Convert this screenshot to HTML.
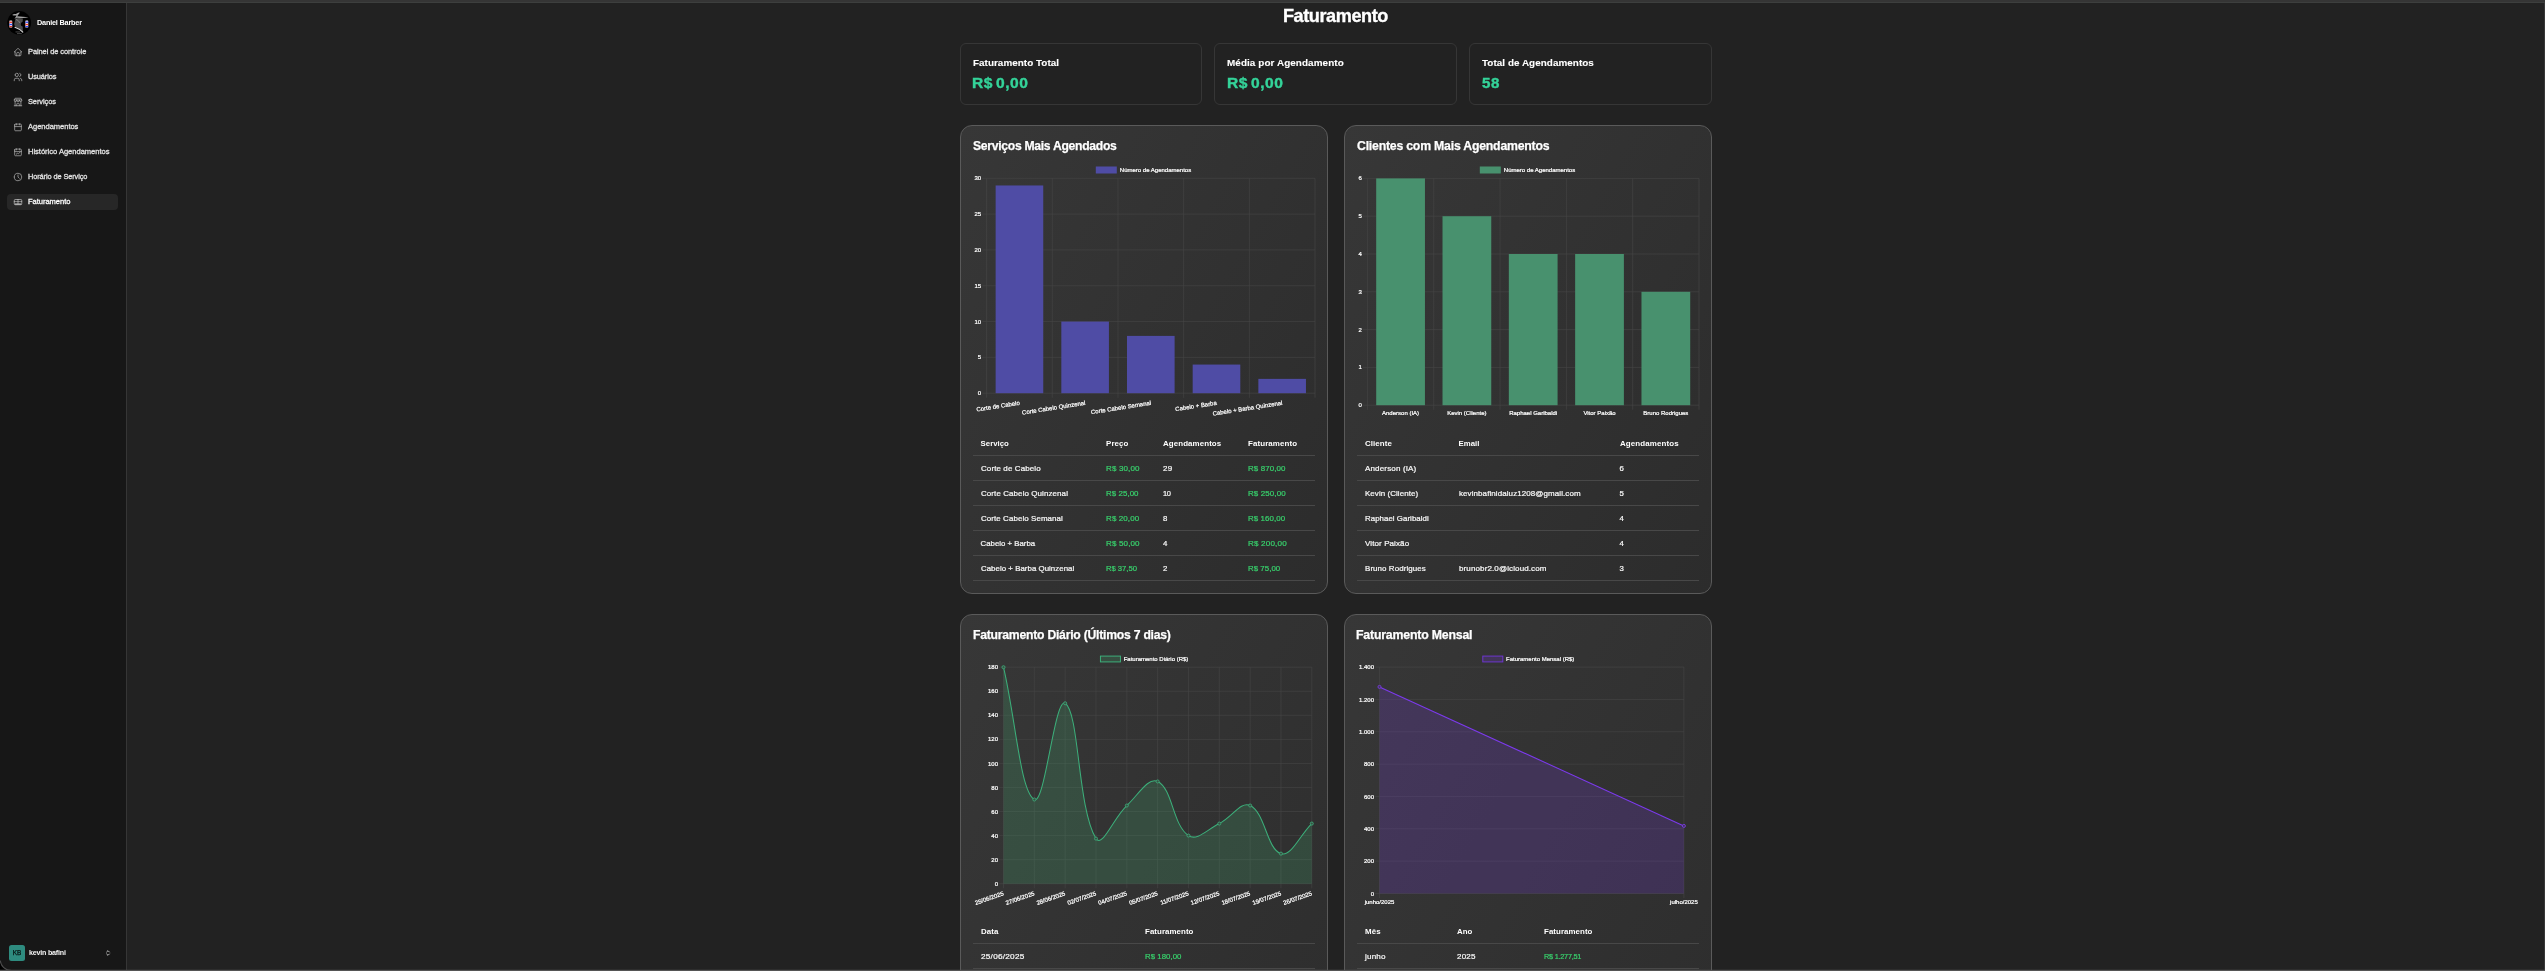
<!DOCTYPE html>
<html lang="pt-BR">
<head>
<meta charset="utf-8">
<title>Faturamento</title>
<style>
*{box-sizing:border-box;margin:0;padding:0}
html,body{width:2545px;height:971px;overflow:hidden;background:#222222}
body{position:relative;font-family:"Liberation Sans",sans-serif;color:#fff;-webkit-font-smoothing:antialiased}
.t{position:absolute;line-height:1;white-space:nowrap;font-family:"Liberation Sans",sans-serif;transform-origin:0 50%}
#app{position:absolute;left:0;top:0;width:2545px;height:971px;overflow:hidden;will-change:transform}
.abs{position:absolute}
#chrome-top{left:0;top:0;width:2545px;height:2px;background:#353535}
#chrome-line{left:0;top:2px;width:2545px;height:1px;background:#3d3f3e}
#sidebar{left:0;top:3px;width:126px;height:968px;background:#171717}
#sidebar-border{left:126px;top:3px;width:1px;height:968px;background:#363636}
#main{left:127px;top:3px;width:2418px;height:968px;background:#222222}
#win-right{left:2544px;top:3px;width:1px;height:968px;background:#383838}
#win-bottom{left:0;top:970px;width:2545px;height:1px;background:#555555}
#win-bottom2{left:0;top:969px;width:2545px;height:1px;background:rgba(85,85,85,.22)}
.nav-active{left:7px;top:194px;width:111px;height:16px;border-radius:4px;background:#272727}
.avatar{left:9px;top:945px;width:16px;height:16px;border-radius:2.5px;background:#2e8b7f}
.stat{top:43px;height:62px;border:1px solid #363636;border-radius:6px;background:#222222}
.card{border:1px solid #5a5a5a;border-radius:12px;background:linear-gradient(120deg,#373737 0%,#2c2c2c 100%)}
.hr{height:1px;background:#484848}
svg{position:absolute;left:0;top:0;overflow:visible}
svg text{font-family:"Liberation Sans",sans-serif}

</style>
</head>
<body>
<div id="app">
<div id="chrome-top" class="abs"></div><div id="chrome-line" class="abs"></div>
<main id="main" class="abs"></main>
<aside id="sidebar" class="abs"></aside><div id="sidebar-border" class="abs"></div>
<svg class="abs" style="left:6px;top:9px" width="27" height="28" viewBox="6 9 27 28">
<circle cx="19.2" cy="22.8" r="11.9" fill="#000"/>
<path transform="translate(0 .8)" d="M12.2 14.2c1.6-1.4 3.2-.4 4.6-1.4 1-.7 2.2-1.4 3-.9-.9 1-1.8 2.3-2.6 3.6 3.6.5 8 .6 11.4 1.3-3.8.5-7.8.3-11.8.1-.9.2-1.7.6-2.4 1.100.8-1.100 1.500-2.100 2.200-3.300-1.500.100-3 .300-4.400-.500z" fill="#bdbdbd" opacity=".85"/>
<path d="M15.300 18.500c2.500-.800 5.500-.800 7.600 0l-.300 3.200c-1.300.700-2 1.800-1.800 3 .2 1 .9 1.500 1.900 1.700l.2 5.200c-2.200-2-5-3.400-7.400-4.800-1.300-1.400-1.600-3-.900-4.600.5-1.100.6-2.400.7-3.700z" fill="#5e5e5e" opacity=".8"/>
<path d="M15 27.200c2.800 1 5.800 2.600 7.800 5" stroke="#d8d8d8" stroke-width="1.100" fill="none" stroke-linecap="round"/>
<path d="M16 19.500c1.800.600 3.200 1.700 3.600 3.400" stroke="#9a9a9a" stroke-width=".7" fill="none"/>
<rect x="15.500" y="31.600" width="4.500" height=".7" fill="#666"/><rect x="17" y="33.300" width="4.800" height=".8" fill="#5c5c5c"/>
<g>
<rect x="9.400" y="20.400" width="2.800" height="7.200" rx=".5" fill="#f2f2f2"/>
<rect x="9.400" y="21.600" width="2.800" height="1.300" fill="#e8352b"/><rect x="9.400" y="23.800" width="2.800" height="1.400" fill="#3345f0"/><rect x="9.400" y="26" width="2.800" height="1.100" fill="#e8352b"/>
<rect x="25.400" y="20.400" width="2.800" height="7.200" rx=".5" fill="#f2f2f2"/>
<rect x="25.400" y="21.600" width="2.800" height="1.300" fill="#3345f0"/><rect x="25.400" y="23.800" width="2.800" height="1.400" fill="#e8352b"/><rect x="25.400" y="26" width="2.800" height="1.100" fill="#3345f0"/>
</g>
</svg>
<span class="t" style="top:18.63px;font-size:7.70px;color:#ffffff;left:36.70px;transform:scaleX(0.9487);font-weight:700;letter-spacing:-0.214px;">Daniel Barber</span>
<div class="abs nav-active"></div>
<nav>
<svg class="abs" style="left:13.00px;top:46.90px" width="10.00" height="10.00" viewBox="0 0 24 24" fill="none" stroke="#bdbdbd" stroke-width="1.60" stroke-linecap="round" stroke-linejoin="round"><path d="M5 12l-2 0l9 -9l9 9l-2 0"/><path d="M5 12v7a2 2 0 0 0 2 2h10a2 2 0 0 0 2 -2v-7"/><path d="M9 21v-6a2 2 0 0 1 2 -2h2a2 2 0 0 1 2 2v6"/></svg>
<span class="t" style="top:47.68px;font-size:7.60px;color:#e4e4e4;left:27.70px;transform:scaleX(0.9793);letter-spacing:-0.074px;-webkit-text-stroke:0.28px #e4e4e4;">Painel de controle</span>
<svg class="abs" style="left:13.00px;top:71.90px" width="10.00" height="10.00" viewBox="0 0 24 24" fill="none" stroke="#bdbdbd" stroke-width="1.60" stroke-linecap="round" stroke-linejoin="round"><path d="M9 7m-4 0a4 4 0 1 0 8 0a4 4 0 1 0 -8 0"/><path d="M3 21v-2a4 4 0 0 1 4 -4h4a4 4 0 0 1 4 4v2"/><path d="M16 3.130a4 4 0 0 1 0 7.750"/><path d="M21 21v-2a4 4 0 0 0 -3 -3.850"/></svg>
<span class="t" style="top:72.68px;font-size:7.60px;color:#e4e4e4;left:27.70px;transform:scaleX(0.9735);letter-spacing:-0.114px;-webkit-text-stroke:0.28px #e4e4e4;">Usuários</span>
<svg class="abs" style="left:13.00px;top:96.90px" width="10.00" height="10.00" viewBox="0 0 24 24" fill="none" stroke="#bdbdbd" stroke-width="1.60" stroke-linecap="round" stroke-linejoin="round"><path d="M3 21l18 0"/><path d="M3 7v1a3 3 0 0 0 6 0v-1m0 1a3 3 0 0 0 6 0v-1m0 1a3 3 0 0 0 6 0v-1h-18l2 -4h14l2 4"/><path d="M5 21l0 -10.150"/><path d="M19 21l0 -10.150"/><path d="M9 21v-4a2 2 0 0 1 2 -2h2a2 2 0 0 1 2 2v4"/></svg>
<span class="t" style="top:97.68px;font-size:7.60px;color:#e4e4e4;left:27.70px;transform:scaleX(0.9787);letter-spacing:-0.088px;-webkit-text-stroke:0.28px #e4e4e4;">Serviços</span>
<svg class="abs" style="left:13.00px;top:121.90px" width="10.00" height="10.00" viewBox="0 0 24 24" fill="none" stroke="#bdbdbd" stroke-width="1.60" stroke-linecap="round" stroke-linejoin="round"><path d="M4 7a2 2 0 0 1 2 -2h12a2 2 0 0 1 2 2v12a2 2 0 0 1 -2 2h-12a2 2 0 0 1 -2 -2v-12z"/><path d="M16 4.200v2.800"/><path d="M8 4.200v2.800"/><path d="M4 11h16"/></svg>
<span class="t" style="top:122.68px;font-size:7.60px;color:#e4e4e4;left:28.00px;transform:scaleX(0.9932);letter-spacing:-0.032px;-webkit-text-stroke:0.28px #e4e4e4;">Agendamentos</span>
<svg class="abs" style="left:13.00px;top:146.90px" width="10.00" height="10.00" viewBox="0 0 24 24" fill="none" stroke="#bdbdbd" stroke-width="1.60" stroke-linecap="round" stroke-linejoin="round"><path d="M4 7a2 2 0 0 1 2 -2h12a2 2 0 0 1 2 2v12a2 2 0 0 1 -2 2h-12a2 2 0 0 1 -2 -2v-12z"/><path d="M16 4.200v2.800"/><path d="M8 4.200v2.800"/><path d="M4 11h16"/><path d="M8 17l3 -2l2 1l4 -3.500"/></svg>
<span class="t" style="top:147.68px;font-size:7.60px;color:#e4e4e4;left:27.70px;transform:scaleX(0.9951);letter-spacing:-0.019px;-webkit-text-stroke:0.28px #e4e4e4;">Histórico Agendamentos</span>
<svg class="abs" style="left:13.00px;top:171.90px" width="10.00" height="10.00" viewBox="0 0 24 24" fill="none" stroke="#bdbdbd" stroke-width="1.60" stroke-linecap="round" stroke-linejoin="round"><path d="M3 12a9 9 0 1 0 18 0a9 9 0 0 0 -18 0"/><path d="M12 7v5l3 3"/></svg>
<span class="t" style="top:172.68px;font-size:7.60px;color:#e4e4e4;left:27.70px;transform:scaleX(0.9719);letter-spacing:-0.104px;-webkit-text-stroke:0.28px #e4e4e4;">Horário de Serviço</span>
<svg class="abs" style="left:13.00px;top:196.90px" width="10.00" height="10.00" viewBox="0 0 24 24" fill="none" stroke="#d6d6d6" stroke-width="1.60" stroke-linecap="round" stroke-linejoin="round"><path d="M3 8a2 2 0 0 1 2 -2h14a2 2 0 0 1 2 2v8.500a2 2 0 0 1 -2 2h-14a2 2 0 0 1 -2 -2z" stroke-width="1.500"/><path d="M3 11h18" stroke-width="1.300"/><path d="M12 6v9.500" stroke-width="1.500"/><path d="M4.500 16.900h15" stroke-width="2.400" stroke-linecap="butt"/></svg>
<span class="t" style="top:197.68px;font-size:7.60px;color:#ffffff;left:27.70px;transform:scaleX(0.9923);letter-spacing:-0.033px;-webkit-text-stroke:0.28px #ffffff;">Faturamento</span>
</nav>
<div class="abs avatar"></div>
<span class="t" style="top:950.08px;font-size:6.40px;color:#071311;left:17.00px;transform:translateX(-50%);-webkit-text-stroke:0.25px #071311;">KB</span>
<span class="t" style="top:948.88px;font-size:7.60px;color:#f4f4f4;left:28.90px;transform:scaleX(0.9398);font-weight:700;letter-spacing:-0.229px;">kevin bafini</span>
<svg class="abs" style="left:103.90px;top:949.00px" width="8.00" height="8.00" viewBox="0 0 24 24" fill="none" stroke="#e6e6e6" stroke-width="2.40" stroke-linecap="round" stroke-linejoin="round"><path d="M8 9l4 -4l4 4"/><path d="M16 15l-4 4l-4 -4"/></svg>
<svg class="abs" style="left:0;top:959px" width="12" height="12" viewBox="0 0 12 12"><path d="M0 0V12H12C5 12 0 7 0 0Z" fill="#000"/><path d="M0.200 1.500C1 7 4.500 11 11.500 11.600" fill="none" stroke="#4d4d4d" stroke-width="1.100"/></svg>
<h1><span class="t" style="top:7.00px;font-size:18.60px;color:#ffffff;left:1282.90px;transform:scaleX(0.9735);font-weight:700;letter-spacing:-0.444px;-webkit-text-stroke:0.35px #ffffff;">Faturamento</span></h1>
<section class="abs stat" style="left:960px;width:242px"></section>
<span class="t" style="top:57.83px;font-size:9.80px;color:#ffffff;left:972.80px;transform:scaleX(1.0074);font-weight:700;letter-spacing:0.039px;-webkit-text-stroke:0.10px #ffffff;">Faturamento Total</span>
<span class="t" style="top:75.96px;font-size:14.60px;color:#34d399;left:972.20px;transform:scaleX(1.0677);font-weight:700;word-spacing:-2.00px;letter-spacing:0.554px;-webkit-text-stroke:0.40px #34d399;">R$ 0,00</span>
<section class="abs stat" style="left:1214px;width:243px"></section>
<span class="t" style="top:57.83px;font-size:9.80px;color:#ffffff;left:1227.30px;transform:scaleX(1.0120);font-weight:700;letter-spacing:0.068px;-webkit-text-stroke:0.10px #ffffff;">Média por Agendamento</span>
<span class="t" style="top:75.96px;font-size:14.60px;color:#34d399;left:1226.70px;transform:scaleX(1.0677);font-weight:700;word-spacing:-2.00px;letter-spacing:0.554px;-webkit-text-stroke:0.40px #34d399;">R$ 0,00</span>
<section class="abs stat" style="left:1469px;width:243px"></section>
<span class="t" style="top:57.83px;font-size:9.80px;color:#ffffff;left:1482.00px;transform:scaleX(1.0084);font-weight:700;letter-spacing:0.046px;-webkit-text-stroke:0.10px #ffffff;">Total de Agendamentos</span>
<span class="t" style="top:75.96px;font-size:14.60px;color:#34d399;left:1482.00px;transform:scaleX(1.0353);font-weight:700;word-spacing:-2.00px;letter-spacing:0.573px;-webkit-text-stroke:0.40px #34d399;">58</span>
<section class="abs card" style="left:960px;top:125px;width:368px;height:469px"></section>
<span class="t" style="top:139.82px;font-size:12.70px;color:#ffffff;left:972.70px;transform:scaleX(0.9577);font-weight:700;letter-spacing:-0.301px;-webkit-text-stroke:0.25px #ffffff;">Serviços Mais Agendados</span>
<svg width="2545" height="971" viewBox="0 0 2545 971"><rect x="1095.80" y="166.50" width="21" height="7" fill="#4f4ca5"/><text x="1119.80" y="172.28" font-size="6.00" text-anchor="start" fill="#ffffff" stroke="#ffffff" stroke-width="0.22">Número de Agendamentos</text><g stroke="#474747" stroke-width="0.6" fill="none" shape-rendering="auto"><path d="M986.60 178.30V397.80"/><path d="M1052.28 178.30V397.80"/><path d="M1117.96 178.30V397.80"/><path d="M1183.64 178.30V397.80"/><path d="M1249.32 178.30V397.80"/><path d="M1315.00 178.30V397.80"/><path d="M982.20 393.20H1315.00"/><path d="M982.20 357.38H1315.00"/><path d="M982.20 321.57H1315.00"/><path d="M982.20 285.75H1315.00"/><path d="M982.20 249.93H1315.00"/><path d="M982.20 214.12H1315.00"/><path d="M982.20 178.30H1315.00"/></g><text x="981.10" y="395.28" font-size="6.00" text-anchor="end" fill="#ffffff" stroke="#ffffff" stroke-width="0.22">0</text><text x="981.10" y="359.46" font-size="6.00" text-anchor="end" fill="#ffffff" stroke="#ffffff" stroke-width="0.22">5</text><text x="981.10" y="323.65" font-size="6.00" text-anchor="end" fill="#ffffff" stroke="#ffffff" stroke-width="0.22">10</text><text x="981.10" y="287.83" font-size="6.00" text-anchor="end" fill="#ffffff" stroke="#ffffff" stroke-width="0.22">15</text><text x="981.10" y="252.01" font-size="6.00" text-anchor="end" fill="#ffffff" stroke="#ffffff" stroke-width="0.22">20</text><text x="981.10" y="216.20" font-size="6.00" text-anchor="end" fill="#ffffff" stroke="#ffffff" stroke-width="0.22">25</text><text x="981.10" y="180.38" font-size="6.00" text-anchor="end" fill="#ffffff" stroke="#ffffff" stroke-width="0.22">30</text><rect x="995.63" y="185.46" width="47.62" height="207.74" fill="#4f4ca5"/><rect x="1061.31" y="321.57" width="47.62" height="71.63" fill="#4f4ca5"/><rect x="1126.99" y="335.89" width="47.62" height="57.31" fill="#4f4ca5"/><rect x="1192.67" y="364.55" width="47.62" height="28.65" fill="#4f4ca5"/><rect x="1258.35" y="378.87" width="47.62" height="14.33" fill="#4f4ca5"/><text transform="translate(1019.14 399.70) rotate(-8.90)" x="0" y="5.18" font-size="6.00" text-anchor="end" fill="#ffffff" stroke="#ffffff" stroke-width="0.22">Corte de Cabelo</text><text transform="translate(1084.82 399.70) rotate(-8.90)" x="0" y="5.18" font-size="6.00" text-anchor="end" fill="#ffffff" stroke="#ffffff" stroke-width="0.22">Corte Cabelo Quinzenal</text><text transform="translate(1150.50 399.70) rotate(-8.90)" x="0" y="5.18" font-size="6.00" text-anchor="end" fill="#ffffff" stroke="#ffffff" stroke-width="0.22">Corte Cabelo Semanal</text><text transform="translate(1216.18 399.70) rotate(-8.90)" x="0" y="5.18" font-size="6.00" text-anchor="end" fill="#ffffff" stroke="#ffffff" stroke-width="0.22">Cabelo + Barba</text><text transform="translate(1281.86 399.70) rotate(-8.90)" x="0" y="5.18" font-size="6.00" text-anchor="end" fill="#ffffff" stroke="#ffffff" stroke-width="0.22">Cabelo + Barba Quinzenal</text></svg>
<span class="t" style="top:439.98px;font-size:7.80px;color:#ffffff;left:980.60px;font-weight:700;">Serviço</span>
<span class="t" style="top:439.98px;font-size:7.80px;color:#ffffff;left:1105.80px;transform:scaleX(1.0167);font-weight:700;letter-spacing:0.090px;">Preço</span>
<span class="t" style="top:439.98px;font-size:7.80px;color:#ffffff;left:1163.00px;transform:scaleX(1.0165);font-weight:700;letter-spacing:0.084px;">Agendamentos</span>
<span class="t" style="top:439.98px;font-size:7.80px;color:#ffffff;left:1247.90px;transform:scaleX(1.0196);font-weight:700;letter-spacing:0.092px;">Faturamento</span>
<div class="abs hr" style="left:973.0px;top:455px;width:342.0px"></div>
<span class="t" style="top:464.98px;font-size:7.80px;color:#f8f8f8;left:980.60px;transform:scaleX(1.0245);letter-spacing:0.099px;-webkit-text-stroke:0.22px #f8f8f8;">Corte de Cabelo</span>
<span class="t" style="top:464.98px;font-size:7.80px;color:#38d06c;left:1105.80px;transform:scaleX(1.0287);letter-spacing:0.130px;-webkit-text-stroke:0.22px #38d06c;">R$ 30,00</span>
<span class="t" style="top:464.98px;font-size:7.80px;color:#f8f8f8;left:1163.00px;transform:scaleX(1.0291);letter-spacing:0.253px;-webkit-text-stroke:0.22px #f8f8f8;">29</span>
<span class="t" style="top:464.98px;font-size:7.80px;color:#38d06c;left:1247.90px;transform:scaleX(1.0195);letter-spacing:0.088px;-webkit-text-stroke:0.22px #38d06c;">R$ 870,00</span>
<div class="abs hr" style="left:973.0px;top:480px;width:342.0px"></div>
<span class="t" style="top:489.98px;font-size:7.80px;color:#f8f8f8;left:980.60px;transform:scaleX(1.0219);letter-spacing:0.087px;-webkit-text-stroke:0.22px #f8f8f8;">Corte Cabelo Quinzenal</span>
<span class="t" style="top:489.98px;font-size:7.80px;color:#38d06c;left:1105.80px;transform:scaleX(1.0132);letter-spacing:0.060px;-webkit-text-stroke:0.22px #38d06c;">R$ 25,00</span>
<span class="t" style="top:489.98px;font-size:7.80px;color:#f8f8f8;left:1163.00px;transform:scaleX(0.9596);letter-spacing:-0.351px;-webkit-text-stroke:0.22px #f8f8f8;">10</span>
<span class="t" style="top:489.98px;font-size:7.80px;color:#38d06c;left:1247.90px;transform:scaleX(1.0222);letter-spacing:0.100px;-webkit-text-stroke:0.22px #38d06c;">R$ 250,00</span>
<div class="abs hr" style="left:973.0px;top:505px;width:342.0px"></div>
<span class="t" style="top:514.98px;font-size:7.80px;color:#f8f8f8;left:980.60px;transform:scaleX(1.0189);letter-spacing:0.078px;-webkit-text-stroke:0.22px #f8f8f8;">Corte Cabelo Semanal</span>
<span class="t" style="top:514.98px;font-size:7.80px;color:#38d06c;left:1105.80px;transform:scaleX(1.0241);letter-spacing:0.109px;-webkit-text-stroke:0.22px #38d06c;">R$ 20,00</span>
<span class="t" style="top:514.98px;font-size:7.80px;color:#f8f8f8;left:1163.00px;-webkit-text-stroke:0.22px #f8f8f8;">8</span>
<span class="t" style="top:514.98px;font-size:7.80px;color:#38d06c;left:1247.90px;transform:scaleX(1.0154);letter-spacing:0.069px;-webkit-text-stroke:0.22px #38d06c;">R$ 160,00</span>
<div class="abs hr" style="left:973.0px;top:530px;width:342.0px"></div>
<span class="t" style="top:539.98px;font-size:7.80px;color:#f8f8f8;left:980.60px;letter-spacing:0.011px;-webkit-text-stroke:0.22px #f8f8f8;">Cabelo + Barba</span>
<span class="t" style="top:539.98px;font-size:7.80px;color:#38d06c;left:1105.80px;transform:scaleX(1.0302);letter-spacing:0.137px;-webkit-text-stroke:0.22px #38d06c;">R$ 50,00</span>
<span class="t" style="top:539.98px;font-size:7.80px;color:#f8f8f8;left:1163.00px;-webkit-text-stroke:0.22px #f8f8f8;">4</span>
<span class="t" style="top:539.98px;font-size:7.80px;color:#38d06c;left:1247.90px;transform:scaleX(1.0370);letter-spacing:0.167px;-webkit-text-stroke:0.22px #38d06c;">R$ 200,00</span>
<div class="abs hr" style="left:973.0px;top:555px;width:342.0px"></div>
<span class="t" style="top:564.98px;font-size:7.80px;color:#f8f8f8;left:980.60px;transform:scaleX(1.0082);letter-spacing:0.033px;-webkit-text-stroke:0.22px #f8f8f8;">Cabelo + Barba Quinzenal</span>
<span class="t" style="top:564.98px;font-size:7.80px;color:#38d06c;left:1105.80px;transform:scaleX(0.9896);letter-spacing:-0.047px;-webkit-text-stroke:0.22px #38d06c;">R$ 37,50</span>
<span class="t" style="top:564.98px;font-size:7.80px;color:#f8f8f8;left:1163.00px;-webkit-text-stroke:0.22px #f8f8f8;">2</span>
<span class="t" style="top:564.98px;font-size:7.80px;color:#38d06c;left:1247.90px;transform:scaleX(1.0086);letter-spacing:0.039px;-webkit-text-stroke:0.22px #38d06c;">R$ 75,00</span>
<div class="abs hr" style="left:973.0px;top:580px;width:342.0px"></div>
<section class="abs card" style="left:1344px;top:125px;width:368px;height:469px"></section>
<span class="t" style="top:139.82px;font-size:12.70px;color:#ffffff;left:1356.60px;transform:scaleX(0.9683);font-weight:700;letter-spacing:-0.224px;-webkit-text-stroke:0.25px #ffffff;">Clientes com Mais Agendamentos</span>
<svg width="2545" height="971" viewBox="0 0 2545 971"><rect x="1479.80" y="166.50" width="21" height="7" fill="#48916e"/><text x="1503.80" y="172.28" font-size="6.00" text-anchor="start" fill="#ffffff" stroke="#ffffff" stroke-width="0.22">Número de Agendamentos</text><g stroke="#474747" stroke-width="0.6" fill="none" shape-rendering="auto"><path d="M1367.40 178.40V409.80"/><path d="M1433.72 178.40V409.80"/><path d="M1500.04 178.40V409.80"/><path d="M1566.36 178.40V409.80"/><path d="M1632.68 178.40V409.80"/><path d="M1699.00 178.40V409.80"/><path d="M1363.00 405.20H1699.00"/><path d="M1363.00 367.40H1699.00"/><path d="M1363.00 329.60H1699.00"/><path d="M1363.00 291.80H1699.00"/><path d="M1363.00 254.00H1699.00"/><path d="M1363.00 216.20H1699.00"/><path d="M1363.00 178.40H1699.00"/></g><text x="1361.90" y="407.28" font-size="6.00" text-anchor="end" fill="#ffffff" stroke="#ffffff" stroke-width="0.22">0</text><text x="1361.90" y="369.48" font-size="6.00" text-anchor="end" fill="#ffffff" stroke="#ffffff" stroke-width="0.22">1</text><text x="1361.90" y="331.68" font-size="6.00" text-anchor="end" fill="#ffffff" stroke="#ffffff" stroke-width="0.22">2</text><text x="1361.90" y="293.88" font-size="6.00" text-anchor="end" fill="#ffffff" stroke="#ffffff" stroke-width="0.22">3</text><text x="1361.90" y="256.08" font-size="6.00" text-anchor="end" fill="#ffffff" stroke="#ffffff" stroke-width="0.22">4</text><text x="1361.90" y="218.28" font-size="6.00" text-anchor="end" fill="#ffffff" stroke="#ffffff" stroke-width="0.22">5</text><text x="1361.90" y="180.48" font-size="6.00" text-anchor="end" fill="#ffffff" stroke="#ffffff" stroke-width="0.22">6</text><rect x="1376.19" y="178.40" width="48.75" height="226.80" fill="#48916e"/><rect x="1442.51" y="216.20" width="48.75" height="189.00" fill="#48916e"/><rect x="1508.83" y="254.00" width="48.75" height="151.20" fill="#48916e"/><rect x="1575.15" y="254.00" width="48.75" height="151.20" fill="#48916e"/><rect x="1641.47" y="291.80" width="48.75" height="113.40" fill="#48916e"/><text x="1400.56" y="415.28" font-size="6.00" text-anchor="middle" fill="#ffffff" stroke="#ffffff" stroke-width="0.22">Anderson (IA)</text><text x="1466.88" y="415.28" font-size="6.00" text-anchor="middle" fill="#ffffff" stroke="#ffffff" stroke-width="0.22">Kevin (Cliente)</text><text x="1533.20" y="415.28" font-size="6.00" text-anchor="middle" fill="#ffffff" stroke="#ffffff" stroke-width="0.22">Raphael Garibaldi</text><text x="1599.52" y="415.28" font-size="6.00" text-anchor="middle" fill="#ffffff" stroke="#ffffff" stroke-width="0.22">Vitor Paixão</text><text x="1665.84" y="415.28" font-size="6.00" text-anchor="middle" fill="#ffffff" stroke="#ffffff" stroke-width="0.22">Bruno Rodrigues</text></svg>
<span class="t" style="top:439.98px;font-size:7.80px;color:#ffffff;left:1364.70px;transform:scaleX(1.0153);font-weight:700;letter-spacing:0.066px;">Cliente</span>
<span class="t" style="top:439.98px;font-size:7.80px;color:#ffffff;left:1458.60px;font-weight:700;">Email</span>
<span class="t" style="top:439.98px;font-size:7.80px;color:#ffffff;left:1619.50px;transform:scaleX(1.0200);font-weight:700;letter-spacing:0.102px;">Agendamentos</span>
<div class="abs hr" style="left:1357.0px;top:455px;width:342.0px"></div>
<span class="t" style="top:464.98px;font-size:7.80px;color:#f8f8f8;left:1364.70px;transform:scaleX(1.0326);letter-spacing:0.131px;-webkit-text-stroke:0.22px #f8f8f8;">Anderson (IA)</span>
<span class="t" style="top:464.98px;font-size:7.80px;color:#f8f8f8;left:1619.50px;-webkit-text-stroke:0.22px #f8f8f8;">6</span>
<div class="abs hr" style="left:1357.0px;top:480px;width:342.0px"></div>
<span class="t" style="top:489.98px;font-size:7.80px;color:#f8f8f8;left:1364.70px;transform:scaleX(1.0190);letter-spacing:0.069px;-webkit-text-stroke:0.22px #f8f8f8;">Kevin (Cliente)</span>
<span class="t" style="top:489.98px;font-size:7.80px;color:#f8f8f8;left:1458.60px;transform:scaleX(1.0226);letter-spacing:0.091px;-webkit-text-stroke:0.22px #f8f8f8;">kevinbafinidaluz1208@gmail.com</span>
<span class="t" style="top:489.98px;font-size:7.80px;color:#f8f8f8;left:1619.50px;-webkit-text-stroke:0.22px #f8f8f8;">5</span>
<div class="abs hr" style="left:1357.0px;top:505px;width:342.0px"></div>
<span class="t" style="top:514.98px;font-size:7.80px;color:#f8f8f8;left:1364.70px;transform:scaleX(1.0102);letter-spacing:0.040px;-webkit-text-stroke:0.22px #f8f8f8;">Raphael Garibaldi</span>
<span class="t" style="top:514.98px;font-size:7.80px;color:#f8f8f8;left:1619.50px;-webkit-text-stroke:0.22px #f8f8f8;">4</span>
<div class="abs hr" style="left:1357.0px;top:530px;width:342.0px"></div>
<span class="t" style="top:539.98px;font-size:7.80px;color:#f8f8f8;left:1364.70px;transform:scaleX(1.0258);letter-spacing:0.098px;-webkit-text-stroke:0.22px #f8f8f8;">Vitor Paixão</span>
<span class="t" style="top:539.98px;font-size:7.80px;color:#f8f8f8;left:1619.50px;-webkit-text-stroke:0.22px #f8f8f8;">4</span>
<div class="abs hr" style="left:1357.0px;top:555px;width:342.0px"></div>
<span class="t" style="top:564.98px;font-size:7.80px;color:#f8f8f8;left:1364.70px;transform:scaleX(1.0185);letter-spacing:0.077px;-webkit-text-stroke:0.22px #f8f8f8;">Bruno Rodrigues</span>
<span class="t" style="top:564.98px;font-size:7.80px;color:#f8f8f8;left:1458.60px;transform:scaleX(1.0273);letter-spacing:0.113px;-webkit-text-stroke:0.22px #f8f8f8;">brunobr2.0@icloud.com</span>
<span class="t" style="top:564.98px;font-size:7.80px;color:#f8f8f8;left:1619.50px;-webkit-text-stroke:0.22px #f8f8f8;">3</span>
<div class="abs hr" style="left:1357.0px;top:580px;width:342.0px"></div>
<section class="abs card" style="left:960px;top:614px;width:368px;height:618px"></section>
<span class="t" style="top:628.82px;font-size:12.70px;color:#ffffff;left:972.70px;transform:scaleX(0.9609);font-weight:700;letter-spacing:-0.246px;-webkit-text-stroke:0.25px #ffffff;">Faturamento Diário (Últimos 7 dias)</span>
<svg width="2545" height="971" viewBox="0 0 2545 971"><rect x="1100.45" y="656.10" width="20" height="5.800" fill="rgba(72,187,120,0.2)" stroke="#3cae7a" stroke-width="1"/><text x="1123.65" y="661.28" font-size="6.00" text-anchor="start" fill="#ffffff" stroke="#ffffff" stroke-width="0.22">Faturamento Diário (R$)</text><g stroke="#474747" stroke-width="0.6" fill="none" shape-rendering="auto"><path d="M1003.50 667.20V888.30"/><path d="M1034.33 667.20V888.30"/><path d="M1065.16 667.20V888.30"/><path d="M1095.99 667.20V888.30"/><path d="M1126.82 667.20V888.30"/><path d="M1157.65 667.20V888.30"/><path d="M1188.48 667.20V888.30"/><path d="M1219.31 667.20V888.30"/><path d="M1250.14 667.20V888.30"/><path d="M1280.97 667.20V888.30"/><path d="M1311.80 667.20V888.30"/><path d="M999.10 883.70H1311.80"/><path d="M999.10 859.64H1311.80"/><path d="M999.10 835.59H1311.80"/><path d="M999.10 811.53H1311.80"/><path d="M999.10 787.48H1311.80"/><path d="M999.10 763.42H1311.80"/><path d="M999.10 739.37H1311.80"/><path d="M999.10 715.31H1311.80"/><path d="M999.10 691.26H1311.80"/><path d="M999.10 667.20H1311.80"/></g><text x="998.00" y="885.78" font-size="6.00" text-anchor="end" fill="#ffffff" stroke="#ffffff" stroke-width="0.22">0</text><text x="998.00" y="861.72" font-size="6.00" text-anchor="end" fill="#ffffff" stroke="#ffffff" stroke-width="0.22">20</text><text x="998.00" y="837.67" font-size="6.00" text-anchor="end" fill="#ffffff" stroke="#ffffff" stroke-width="0.22">40</text><text x="998.00" y="813.61" font-size="6.00" text-anchor="end" fill="#ffffff" stroke="#ffffff" stroke-width="0.22">60</text><text x="998.00" y="789.56" font-size="6.00" text-anchor="end" fill="#ffffff" stroke="#ffffff" stroke-width="0.22">80</text><text x="998.00" y="765.50" font-size="6.00" text-anchor="end" fill="#ffffff" stroke="#ffffff" stroke-width="0.22">100</text><text x="998.00" y="741.45" font-size="6.00" text-anchor="end" fill="#ffffff" stroke="#ffffff" stroke-width="0.22">120</text><text x="998.00" y="717.39" font-size="6.00" text-anchor="end" fill="#ffffff" stroke="#ffffff" stroke-width="0.22">140</text><text x="998.00" y="693.34" font-size="6.00" text-anchor="end" fill="#ffffff" stroke="#ffffff" stroke-width="0.22">160</text><text x="998.00" y="669.28" font-size="6.00" text-anchor="end" fill="#ffffff" stroke="#ffffff" stroke-width="0.22">180</text><path d="M1003.50 667.20C1015.83 720.12 1020.19 791.23 1034.33 799.51C1044.85 805.66 1054.77 696.70 1065.16 703.28C1079.43 712.33 1077.39 807.75 1095.99 838.60C1102.05 848.65 1113.59 817.77 1126.82 805.52C1138.26 794.92 1148.14 776.83 1157.65 781.46C1172.80 788.85 1172.37 824.59 1188.48 835.59C1197.04 841.43 1207.45 829.35 1219.31 823.56C1232.11 817.32 1240.65 800.89 1250.14 805.52C1265.32 812.92 1266.91 849.52 1280.97 853.63C1291.57 856.73 1299.47 835.59 1311.80 823.56L1311.80 883.70L1003.50 883.70Z" fill="rgba(72,187,120,0.2)"/><path d="M1003.50 667.20C1015.83 720.12 1020.19 791.23 1034.33 799.51C1044.85 805.66 1054.77 696.70 1065.16 703.28C1079.43 712.33 1077.39 807.75 1095.99 838.60C1102.05 848.65 1113.59 817.77 1126.82 805.52C1138.26 794.92 1148.14 776.83 1157.65 781.46C1172.80 788.85 1172.37 824.59 1188.48 835.59C1197.04 841.43 1207.45 829.35 1219.31 823.56C1232.11 817.32 1240.65 800.89 1250.14 805.52C1265.32 812.92 1266.91 849.52 1280.97 853.63C1291.57 856.73 1299.47 835.59 1311.80 823.56" fill="none" stroke="#3cae7a" stroke-width="1.05" stroke-linejoin="round"/><circle cx="1003.50" cy="667.20" r="1.55" fill="#3a5246" stroke="#3cae7a" stroke-width="0.8"/><circle cx="1034.33" cy="799.51" r="1.55" fill="#3a5246" stroke="#3cae7a" stroke-width="0.8"/><circle cx="1065.16" cy="703.28" r="1.55" fill="#3a5246" stroke="#3cae7a" stroke-width="0.8"/><circle cx="1095.99" cy="838.60" r="1.55" fill="#3a5246" stroke="#3cae7a" stroke-width="0.8"/><circle cx="1126.82" cy="805.52" r="1.55" fill="#3a5246" stroke="#3cae7a" stroke-width="0.8"/><circle cx="1157.65" cy="781.46" r="1.55" fill="#3a5246" stroke="#3cae7a" stroke-width="0.8"/><circle cx="1188.48" cy="835.59" r="1.55" fill="#3a5246" stroke="#3cae7a" stroke-width="0.8"/><circle cx="1219.31" cy="823.56" r="1.55" fill="#3a5246" stroke="#3cae7a" stroke-width="0.8"/><circle cx="1250.14" cy="805.52" r="1.55" fill="#3a5246" stroke="#3cae7a" stroke-width="0.8"/><circle cx="1280.97" cy="853.63" r="1.55" fill="#3a5246" stroke="#3cae7a" stroke-width="0.8"/><circle cx="1311.80" cy="823.56" r="1.55" fill="#3a5246" stroke="#3cae7a" stroke-width="0.8"/><text transform="translate(1002.40 890.20) rotate(-19.30)" x="0" y="5.18" font-size="6.00" text-anchor="end" fill="#ffffff" stroke="#ffffff" stroke-width="0.22">25/06/2025</text><text transform="translate(1033.23 890.20) rotate(-19.30)" x="0" y="5.18" font-size="6.00" text-anchor="end" fill="#ffffff" stroke="#ffffff" stroke-width="0.22">27/06/2025</text><text transform="translate(1064.06 890.20) rotate(-19.30)" x="0" y="5.18" font-size="6.00" text-anchor="end" fill="#ffffff" stroke="#ffffff" stroke-width="0.22">28/06/2025</text><text transform="translate(1094.89 890.20) rotate(-19.30)" x="0" y="5.18" font-size="6.00" text-anchor="end" fill="#ffffff" stroke="#ffffff" stroke-width="0.22">02/07/2025</text><text transform="translate(1125.72 890.20) rotate(-19.30)" x="0" y="5.18" font-size="6.00" text-anchor="end" fill="#ffffff" stroke="#ffffff" stroke-width="0.22">04/07/2025</text><text transform="translate(1156.55 890.20) rotate(-19.30)" x="0" y="5.18" font-size="6.00" text-anchor="end" fill="#ffffff" stroke="#ffffff" stroke-width="0.22">05/07/2025</text><text transform="translate(1187.38 890.20) rotate(-19.30)" x="0" y="5.18" font-size="6.00" text-anchor="end" fill="#ffffff" stroke="#ffffff" stroke-width="0.22">11/07/2025</text><text transform="translate(1218.21 890.20) rotate(-19.30)" x="0" y="5.18" font-size="6.00" text-anchor="end" fill="#ffffff" stroke="#ffffff" stroke-width="0.22">12/07/2025</text><text transform="translate(1249.04 890.20) rotate(-19.30)" x="0" y="5.18" font-size="6.00" text-anchor="end" fill="#ffffff" stroke="#ffffff" stroke-width="0.22">18/07/2025</text><text transform="translate(1279.87 890.20) rotate(-19.30)" x="0" y="5.18" font-size="6.00" text-anchor="end" fill="#ffffff" stroke="#ffffff" stroke-width="0.22">19/07/2025</text><text transform="translate(1310.70 890.20) rotate(-19.30)" x="0" y="5.18" font-size="6.00" text-anchor="end" fill="#ffffff" stroke="#ffffff" stroke-width="0.22">26/07/2025</text></svg>
<span class="t" style="top:927.58px;font-size:7.80px;color:#ffffff;left:980.60px;transform:scaleX(1.0145);font-weight:700;letter-spacing:0.082px;">Data</span>
<span class="t" style="top:927.58px;font-size:7.80px;color:#ffffff;left:1144.60px;transform:scaleX(1.0123);font-weight:700;letter-spacing:0.058px;">Faturamento</span>
<div class="abs hr" style="left:973.0px;top:943px;width:342.0px"></div>
<span class="t" style="top:952.58px;font-size:7.80px;color:#f8f8f8;left:980.60px;transform:scaleX(1.0533);letter-spacing:0.231px;-webkit-text-stroke:0.22px #f8f8f8;">25/06/2025</span>
<span class="t" style="top:952.58px;font-size:7.80px;color:#38d06c;left:1144.60px;transform:scaleX(1.0058);letter-spacing:0.026px;-webkit-text-stroke:0.22px #38d06c;">R$ 180,00</span>
<div class="abs hr" style="left:973.0px;top:968px;width:342.0px"></div>
<section class="abs card" style="left:1344px;top:614px;width:368px;height:618px"></section>
<span class="t" style="top:628.82px;font-size:12.70px;color:#ffffff;left:1356.20px;transform:scaleX(0.9717);font-weight:700;letter-spacing:-0.205px;-webkit-text-stroke:0.25px #ffffff;">Faturamento Mensal</span>
<svg width="2545" height="971" viewBox="0 0 2545 971"><rect x="1482.80" y="656.10" width="20" height="5.800" fill="rgba(124,58,237,0.2)" stroke="#6d36cf" stroke-width="1"/><text x="1506.00" y="661.28" font-size="6.00" text-anchor="start" fill="#ffffff" stroke="#ffffff" stroke-width="0.22">Faturamento Mensal (R$)</text><g stroke="#474747" stroke-width="0.6" fill="none" shape-rendering="auto"><path d="M1379.50 667.10V898.10"/><path d="M1683.90 667.10V898.10"/><path d="M1375.10 893.50H1683.90"/><path d="M1375.10 861.16H1683.90"/><path d="M1375.10 828.81H1683.90"/><path d="M1375.10 796.47H1683.90"/><path d="M1375.10 764.13H1683.90"/><path d="M1375.10 731.79H1683.90"/><path d="M1375.10 699.44H1683.90"/><path d="M1375.10 667.10H1683.90"/></g><text x="1374.00" y="895.58" font-size="6.00" text-anchor="end" fill="#ffffff" stroke="#ffffff" stroke-width="0.22">0</text><text x="1374.00" y="863.24" font-size="6.00" text-anchor="end" fill="#ffffff" stroke="#ffffff" stroke-width="0.22">200</text><text x="1374.00" y="830.89" font-size="6.00" text-anchor="end" fill="#ffffff" stroke="#ffffff" stroke-width="0.22">400</text><text x="1374.00" y="798.55" font-size="6.00" text-anchor="end" fill="#ffffff" stroke="#ffffff" stroke-width="0.22">600</text><text x="1374.00" y="766.21" font-size="6.00" text-anchor="end" fill="#ffffff" stroke="#ffffff" stroke-width="0.22">800</text><text x="1374.00" y="733.87" font-size="6.00" text-anchor="end" fill="#ffffff" stroke="#ffffff" stroke-width="0.22">1.000</text><text x="1374.00" y="701.52" font-size="6.00" text-anchor="end" fill="#ffffff" stroke="#ffffff" stroke-width="0.22">1.200</text><text x="1374.00" y="669.18" font-size="6.00" text-anchor="end" fill="#ffffff" stroke="#ffffff" stroke-width="0.22">1.400</text><path d="M1379.50 686.91L1683.90 825.90L1683.90 893.50L1379.50 893.50Z" fill="rgba(124,58,237,0.2)"/><path d="M1379.50 686.91L1683.90 825.90" stroke="#7c3aed" stroke-width="1.05" fill="none"/><circle cx="1379.50" cy="686.91" r="1.55" fill="#43365a" stroke="#7c3aed" stroke-width="0.8"/><circle cx="1683.90" cy="825.90" r="1.55" fill="#43365a" stroke="#7c3aed" stroke-width="0.8"/><text x="1379.50" y="903.58" font-size="6.00" text-anchor="middle" fill="#ffffff" stroke="#ffffff" stroke-width="0.22">junho/2025</text><text x="1683.90" y="903.58" font-size="6.00" text-anchor="middle" fill="#ffffff" stroke="#ffffff" stroke-width="0.22">julho/2025</text></svg>
<span class="t" style="top:927.58px;font-size:7.80px;color:#ffffff;left:1364.60px;transform:scaleX(1.0140);font-weight:700;letter-spacing:0.106px;">Mês</span>
<span class="t" style="top:927.58px;font-size:7.80px;color:#ffffff;left:1457.00px;transform:scaleX(1.0080);font-weight:700;letter-spacing:0.061px;">Ano</span>
<span class="t" style="top:927.58px;font-size:7.80px;color:#ffffff;left:1543.80px;transform:scaleX(1.0123);font-weight:700;letter-spacing:0.058px;">Faturamento</span>
<div class="abs hr" style="left:1357.0px;top:943px;width:342.0px"></div>
<span class="t" style="top:952.58px;font-size:7.80px;color:#f8f8f8;left:1364.60px;transform:scaleX(1.0366);letter-spacing:0.175px;-webkit-text-stroke:0.22px #f8f8f8;">junho</span>
<span class="t" style="top:952.58px;font-size:7.80px;color:#f8f8f8;left:1457.00px;transform:scaleX(1.0295);letter-spacing:0.171px;-webkit-text-stroke:0.22px #f8f8f8;">2025</span>
<span class="t" style="top:952.58px;font-size:7.80px;color:#38d06c;left:1543.80px;transform:scaleX(0.9383);letter-spacing:-0.262px;-webkit-text-stroke:0.22px #38d06c;">R$ 1.277,51</span>
<div class="abs hr" style="left:1357.0px;top:968px;width:342.0px"></div>
<div id="win-right" class="abs"></div><div id="win-bottom2" class="abs"></div><div id="win-bottom" class="abs"></div>
</div>
</body>
</html>
